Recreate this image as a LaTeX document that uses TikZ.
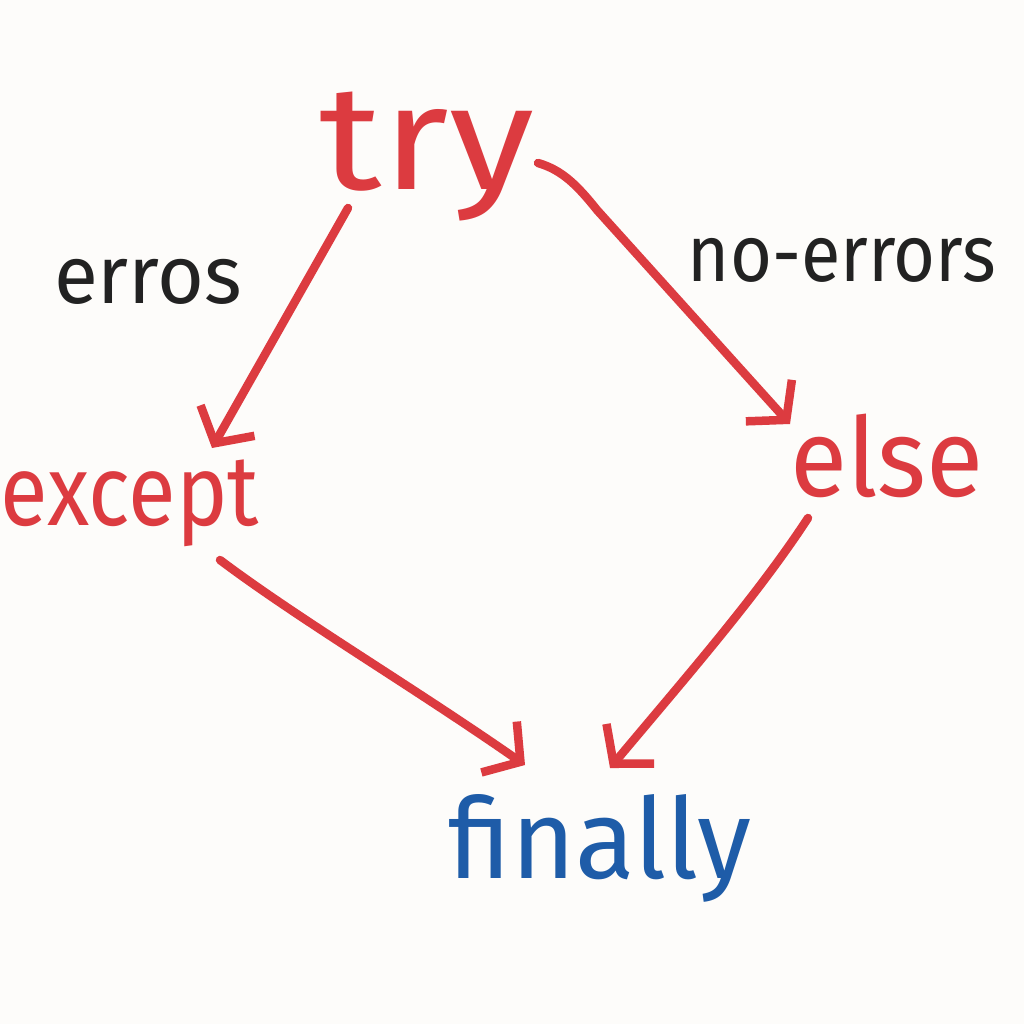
\documentclass[tikz,border=0pt]{standalone}
\usepackage{fontspec}
\setmainfont{Fira Sans}
\usetikzlibrary{arrows.meta,calc}
\definecolor{pen}{HTML}{DC3B40}
\definecolor{ink}{HTML}{222222}
\definecolor{blu}{HTML}{1E5CA8}
\definecolor{paper}{HTML}{FDFCFA}
\tikzset{
  word/.style={anchor=base,inner sep=0pt,font=\fontsize{#1}{#1}\selectfont},
  redword/.style={word=#1,text=pen},
  blackword/.style={word=#1,text=ink},
  blueword/.style={word=#1,text=blu},
  flow/.style={draw=pen,line width=8.5pt,line cap=round,line join=round,
    -{Straight Barb[length=26pt,width=62pt,line width=8.5pt]}}
}
\begin{document}
\begin{tikzpicture}[x=1pt,y=-1pt]
\fill[paper] (0,0) rectangle (1024,1024);
\useasboundingbox (0,0) rectangle (1024,1024);
\node[redword=135] (try) at (427,190) {\scalebox{1.28}[1.1]{try}};
\node[blackword=82] (erros) at (148,303) {\scalebox{0.98}[1.0]{erros}};
\node[blackword=80] (noerr) at (842,281) {\scalebox{0.9}[1.0]{no-errors}};
\node[redword=100] (except) at (130,525) {\scalebox{0.87}[1.0]{except}};
\node[redword=110] (else) at (887,496) {\scalebox{0.95}[1.0]{else}};
\node[blueword=112] (finally) at (600,878) {\scalebox{0.98}[1.0]{finally}};
\draw[flow] ($(try.base)+(-79,18)$) -- ($(except.base)+(82,-77)$);
\draw[flow] ($(try.base)+(111,-27)$) .. controls ($(try.base)+(135,-20)$) and ($(try.base)+(150,-5)$) .. ($(try.base)+(170,20)$) -- ($(else.base)+(-97,-72)$);
\draw[flow] ($(except.base)+(90,35)$) .. controls ($(except.base)+(170,95)$) and ($(except.base)+(280,160)$) .. ($(finally.base)+(-75,-113)$);
\draw[flow] ($(else.base)+(-79,22)$) .. controls ($(else.base)+(-130,100)$) and ($(else.base)+(-200,180)$) .. ($(finally.base)+(10,-110)$);
\end{tikzpicture}
\end{document}
